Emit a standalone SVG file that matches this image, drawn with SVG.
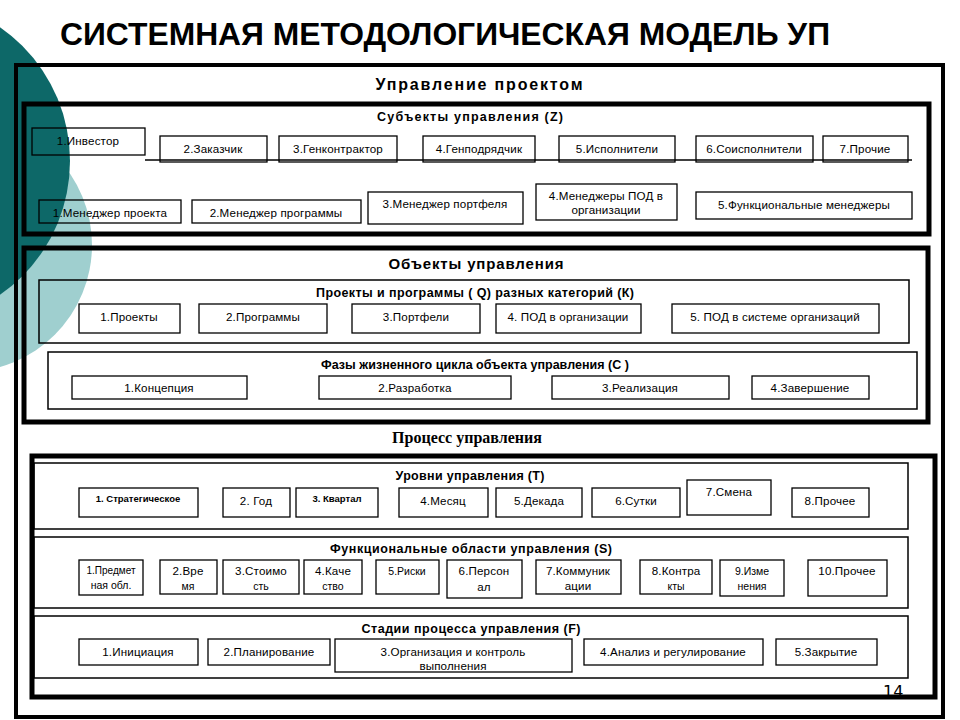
<svg xmlns="http://www.w3.org/2000/svg" width="960" height="720" viewBox="0 0 960 720">
<style>
.bg{fill:#fff}
.c1{fill:#0d6868}
.c2{fill:#9fcfcf}
.frame{fill:none;stroke:#000;stroke-width:5}
.outer{fill:none;stroke:#000;stroke-width:4}
.sub{fill:none;stroke:#000;stroke-width:1.5}
.box{fill:none;stroke:#000;stroke-width:1.3}
.ln{stroke:#000;stroke-width:1.3;fill:none}
text{font-family:"Liberation Sans",Arial,sans-serif;fill:#000}
.t{font-size:11.6px;text-anchor:middle;letter-spacing:0.15px}
.ts{font-size:10.5px;text-anchor:middle}
.tb{font-size:9.5px;font-weight:bold;text-anchor:middle}
.h{font-size:12.5px;font-weight:bold;text-anchor:middle}
.h2{font-size:15px;font-weight:bold;text-anchor:middle}
.title{font-size:31.5px;font-weight:bold}
.serif{font-family:"Liberation Serif","Times New Roman",serif;font-size:16px;font-weight:bold;text-anchor:middle}
</style>
<rect class="bg" x="0" y="0" width="960" height="720"/>
<circle class="c2" cx="-35" cy="245" r="127"/>
<circle class="c1" cx="-93" cy="161" r="163"/>
<text class="title" x="60" y="45" textLength="770" lengthAdjust="spacingAndGlyphs">СИСТЕМНАЯ МЕТОДОЛОГИЧЕСКАЯ МОДЕЛЬ УП</text>
<rect class="outer" x="16" y="65" width="927" height="652"/>
<text class="h2" x="479" y="90" style="font-size:16px" textLength="207" lengthAdjust="spacing">Управление  проектом</text>

<g id="subjects">
<rect class="frame" x="24" y="104" width="905" height="130"/>
<text class="h" x="470" y="121" textLength="186" lengthAdjust="spacing">Субъекты управления (Z)</text>
</g>
<g id="connectors">
<line class="ln" x1="145" y1="160" x2="912" y2="160"/>
</g>
<g id="z1"><rect class="box" x="32" y="128" width="113" height="27"/><text class="t" x="88" y="145">1.Инвестор</text></g>
<g id="z2"><rect class="box" x="160" y="136" width="107" height="26"/><text class="t" x="213" y="153">2.Заказчик</text></g>
<g id="z3"><rect class="box" x="279" y="136" width="118" height="26"/><text class="t" x="338" y="153">3.Генконтрактор</text></g>
<g id="z4"><rect class="box" x="423" y="136" width="112" height="26"/><text class="t" x="479" y="153">4.Генподрядчик</text></g>
<g id="z5"><rect class="box" x="559" y="136" width="116" height="26"/><text class="t" x="617" y="153">5.Исполнители</text></g>
<g id="z6"><rect class="box" x="696" y="136" width="117" height="26"/><text class="t" x="754" y="153">6.Соисполнители</text></g>
<g id="z7"><rect class="box" x="823" y="136" width="85" height="26"/><text class="t" x="865" y="153">7.Прочие</text></g>
<g id="m1"><rect class="box" x="39" y="200" width="142" height="23"/><text class="t" x="110" y="217">1.Менеджер проекта</text></g>
<g id="m2"><rect class="box" x="192" y="200" width="169" height="23"/><text class="t" x="276" y="217">2.Менеджер программы</text></g>
<g id="m3"><rect class="box" x="368" y="192" width="155" height="32"/><text class="t" x="445" y="208">3.Менеджер портфеля</text></g>
<g id="m4"><rect class="box" x="536" y="184" width="141" height="36"/><text class="t" x="606" y="200">4.Менеджеры ПОД  в</text><text class="t" x="606" y="214">организации</text></g>
<g id="m5"><rect class="box" x="696" y="192" width="216" height="27"/><text class="t" x="804" y="209">5.Функциональные менеджеры</text></g>

<g id="objects">
<rect class="frame" x="24" y="248" width="904" height="174"/>
<text class="h2" x="476" y="269" textLength="175" lengthAdjust="spacing">Объекты управления</text>
</g>
<g id="qk">
<rect class="sub" x="39" y="280" width="870" height="63"/>
<text class="h" x="475" y="297" textLength="318" lengthAdjust="spacing">Проекты и программы ( Q) разных категорий (К)</text>
</g>
<g id="q1"><rect class="box" x="79" y="304" width="101" height="29"/><text class="t" x="129" y="321">1.Проекты</text></g>
<g id="q2"><rect class="box" x="199" y="304" width="128" height="29"/><text class="t" x="263" y="321">2.Программы</text></g>
<g id="q3"><rect class="box" x="352" y="304" width="128" height="29"/><text class="t" x="416" y="321">3.Портфели</text></g>
<g id="q4"><rect class="box" x="496" y="304" width="145" height="29"/><text class="t" x="568" y="321">4. ПОД в организации</text></g>
<g id="q5"><rect class="box" x="672" y="304" width="207" height="29"/><text class="t" x="775" y="321">5. ПОД в системе организаций</text></g>
<g id="phases">
<rect class="sub" x="48" y="352" width="869" height="57"/>
<text class="h" x="475" y="369" textLength="308" lengthAdjust="spacing">Фазы жизненного цикла объекта управления (С )</text>
</g>
<g id="c1"><rect class="box" x="72" y="376" width="175" height="23"/><text class="t" x="159" y="392">1.Концепция</text></g>
<g id="c2"><rect class="box" x="319" y="376" width="192" height="23"/><text class="t" x="415" y="392">2.Разработка</text></g>
<g id="c3"><rect class="box" x="552" y="376" width="177" height="23"/><text class="t" x="640" y="392">3.Реализация</text></g>
<g id="c4"><rect class="box" x="752" y="376" width="117" height="23"/><text class="t" x="810" y="392">4.Завершение</text></g>

<text class="serif" x="467" y="443">Процесс управления</text>
<g id="process">
<rect class="frame" x="32" y="456" width="903" height="241"/>
</g>
<g id="levels">
<rect class="sub" x="34" y="463" width="874" height="66"/>
<text class="h" x="470" y="480" textLength="149" lengthAdjust="spacing">Уровни управления (Т)</text>
</g>
<g id="t1"><rect class="box" x="79" y="488" width="119" height="29"/><text class="tb" x="138" y="502">1. Стратегическое</text></g>
<g id="t2"><rect class="box" x="223" y="488" width="67" height="29"/><text class="t" x="256" y="505">2. Год</text></g>
<g id="t3"><rect class="box" x="296" y="488" width="82" height="29"/><text class="tb" x="337" y="502">3. Квартал</text></g>
<g id="t4"><rect class="box" x="399" y="488" width="89" height="29"/><text class="t" x="443" y="505">4.Месяц</text></g>
<g id="t5"><rect class="box" x="496" y="488" width="86" height="29"/><text class="t" x="539" y="505">5.Декада</text></g>
<g id="t6"><rect class="box" x="592" y="488" width="88" height="29"/><text class="t" x="636" y="505">6.Сутки</text></g>
<g id="t7"><rect class="box" x="687" y="480" width="84" height="35"/><text class="t" x="729" y="496">7.Смена</text></g>
<g id="t8"><rect class="box" x="792" y="488" width="77" height="29"/><text class="t" x="830" y="505">8.Прочее</text></g>
<g id="areas">
<rect class="sub" x="34" y="537" width="874" height="71"/>
<text class="h" x="471" y="553" textLength="282" lengthAdjust="spacing">Функциональные области управления (S)</text>
</g>
<g id="s1"><rect class="box" x="79" y="560" width="64" height="35"/><text class="ts" x="111" y="574" style="font-size:10px">1.Предмет</text><text class="ts" x="111" y="589" style="font-size:10.5px">ная обл.</text></g>
<g id="s2"><rect class="box" x="160" y="560" width="57" height="34"/><text class="t" x="188" y="575">2.Вре</text><text class="ts" x="188" y="590">мя</text></g>
<g id="s3"><rect class="box" x="223" y="560" width="76" height="34"/><text class="t" x="261" y="575">3.Стоимо</text><text class="ts" x="261" y="590">сть</text></g>
<g id="s4"><rect class="box" x="304" y="560" width="58" height="34"/><text class="t" x="333" y="575">4.Каче</text><text class="ts" x="333" y="590">ство</text></g>
<g id="s5"><rect class="box" x="376" y="560" width="63" height="34"/><text class="ts" x="407" y="575">5.Риски</text></g>
<g id="s6"><rect class="box" x="447" y="560" width="75" height="38"/><text class="t" x="484" y="575">6.Персон</text><text class="t" x="484" y="591">ал</text></g>
<g id="s7"><rect class="box" x="536" y="560" width="85" height="34"/><text class="t" x="578" y="575">7.Коммуник</text><text class="t" x="578" y="590">ации</text></g>
<g id="s8"><rect class="box" x="640" y="560" width="72" height="34"/><text class="t" x="676" y="575">8.Контра</text><text class="ts" x="676" y="590">кты</text></g>
<g id="s9"><rect class="box" x="720" y="560" width="64" height="36"/><text class="ts" x="752" y="575">9.Изме</text><text class="ts" x="752" y="590">нения</text></g>
<g id="s10"><rect class="box" x="808" y="560" width="79" height="36"/><text class="t" x="847" y="575">10.Прочее</text></g>
<g id="stages">
<rect class="sub" x="34" y="616" width="874" height="62"/>
<text class="h" x="471" y="633" textLength="219" lengthAdjust="spacing">Стадии процесса управления (F)</text>
</g>
<g id="f1"><rect class="box" x="79" y="639" width="119" height="26"/><text class="t" x="138" y="656">1.Инициация</text></g>
<g id="f2"><rect class="box" x="208" y="639" width="122" height="26"/><text class="t" x="269" y="656">2.Планирование</text></g>
<g id="f3"><rect class="box" x="335" y="639" width="237" height="33"/><text class="t" x="453" y="656">3.Организация и контроль</text><text class="t" x="453" y="670">выполнения</text></g>
<g id="f4"><rect class="box" x="584" y="639" width="179" height="26"/><text class="t" x="673" y="656">4.Анализ и регулирование</text></g>
<g id="f5"><rect class="box" x="776" y="639" width="101" height="26"/><text class="t" x="826" y="656">5.Закрытие</text></g>
<text x="883" y="697" style="font-size:16px;font-family:'DejaVu Sans','Liberation Sans',sans-serif">14</text>
</svg>
